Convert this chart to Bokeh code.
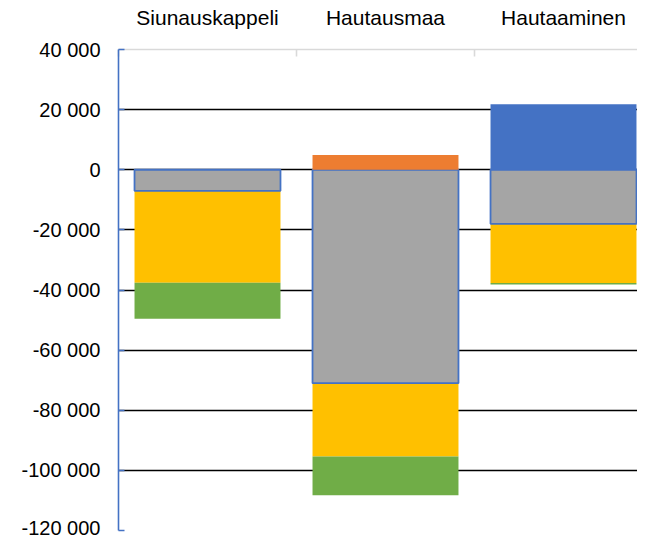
from bokeh.plotting import figure
from bokeh.models import ColumnDataSource, Range1d, FixedTicker, LinearAxis
from bokeh.transform import stack
from bokeh.embed import file_html
from bokeh.resources import INLINE

categories = ["Siunauskappeli", "Hautausmaa", "Hautaaminen"]
blue = [0, 0, 21800]
orange = [0, 4900, 0]
gray = [-7000, -71000, -18000]
yellow = [-30600, -24400, -19700]
green = [-12000, -12900, -500]
y_ticks = [-120000, -100000, -80000, -60000, -40000, -20000, 0, 20000, 40000]

x_pos = [i + 0.5 for i in range(len(categories))]
source = ColumnDataSource(dict(x=x_pos, blue=blue, orange=orange, gray=gray,
                               yellow=yellow, green=green))

FONT = "Liberation Sans"
W, H = 637, 538
LEFT, TOP, BOTTOM = 118, 49, 8
cat_px = 178.0
frame_w = W - LEFT

p = figure(width=W, height=H, output_backend="svg", toolbar_location=None,
           x_range=Range1d(0, frame_w / cat_px), y_range=Range1d(-120000, 40000),
           min_border_left=LEFT, min_border_top=TOP, min_border_bottom=BOTTOM,
           min_border_right=0, x_axis_location=None, y_axis_location=None)
p.outline_line_color = None
p.background_fill_color = "white"
p.border_fill_color = "white"

# grid
p.xgrid.visible = False
p.ygrid.ticker = FixedTicker(ticks=y_ticks[:-1])
p.ygrid.grid_line_color = "black"
p.ygrid.grid_line_width = 1.6

bw = 0.82
p.vbar(x="x", width=bw, bottom=stack("gray"), top=stack("gray", "yellow"),
       source=source, fill_color="#FFC000", line_color=None)
p.vbar(x="x", width=bw, bottom=stack("gray", "yellow"), top=stack("gray", "yellow", "green"),
       source=source, fill_color="#70AD47", line_color=None)
p.vbar(x="x", width=bw, bottom=0, top=stack("gray"),
       source=source, fill_color="#A5A5A5", line_color="#4472C4", line_width=1.8)
p.vbar(x="x", width=bw, bottom=0, top=stack("blue"),
       source=source, fill_color="#4472C4", line_color=None)
p.vbar(x="x", width=bw, bottom=stack("blue"), top=stack("blue", "orange"),
       source=source, fill_color="#ED7D31", line_color=None)

# y axis
yaxis = LinearAxis(ticker=FixedTicker(ticks=y_ticks))
yaxis.major_label_overrides = {v: f"{v:,}".replace(",", " ") for v in y_ticks}
yaxis.axis_line_color = "#4472C4"
yaxis.axis_line_width = 1.6
yaxis.major_tick_line_color = "#4472C4"
yaxis.major_tick_line_width = 1.6
yaxis.major_tick_in = 6
yaxis.major_tick_out = 0
yaxis.minor_tick_line_color = None
yaxis.major_label_standoff = 18
yaxis.major_label_text_font = FONT
yaxis.major_label_text_font_size = "20px"
yaxis.major_label_text_color = "black"
p.add_layout(yaxis, "left")

# top category axis
xaxis = LinearAxis(ticker=FixedTicker(ticks=x_pos, minor_ticks=list(range(len(categories) + 1))))
xaxis.major_label_overrides = {x: c for x, c in zip(x_pos, categories)}
xaxis.axis_line_color = "#D9D9D9"
xaxis.axis_line_width = 1.6
xaxis.major_tick_line_color = None
xaxis.minor_tick_line_color = "#D9D9D9"
xaxis.minor_tick_line_width = 1.6
xaxis.minor_tick_in = 7
xaxis.minor_tick_out = 0
xaxis.major_label_standoff = 15
xaxis.major_label_text_font = FONT
xaxis.major_label_text_font_size = "21px"
xaxis.major_label_text_color = "black"
p.add_layout(xaxis, "above")

open("out.html", "w").write(file_html(p, INLINE))
